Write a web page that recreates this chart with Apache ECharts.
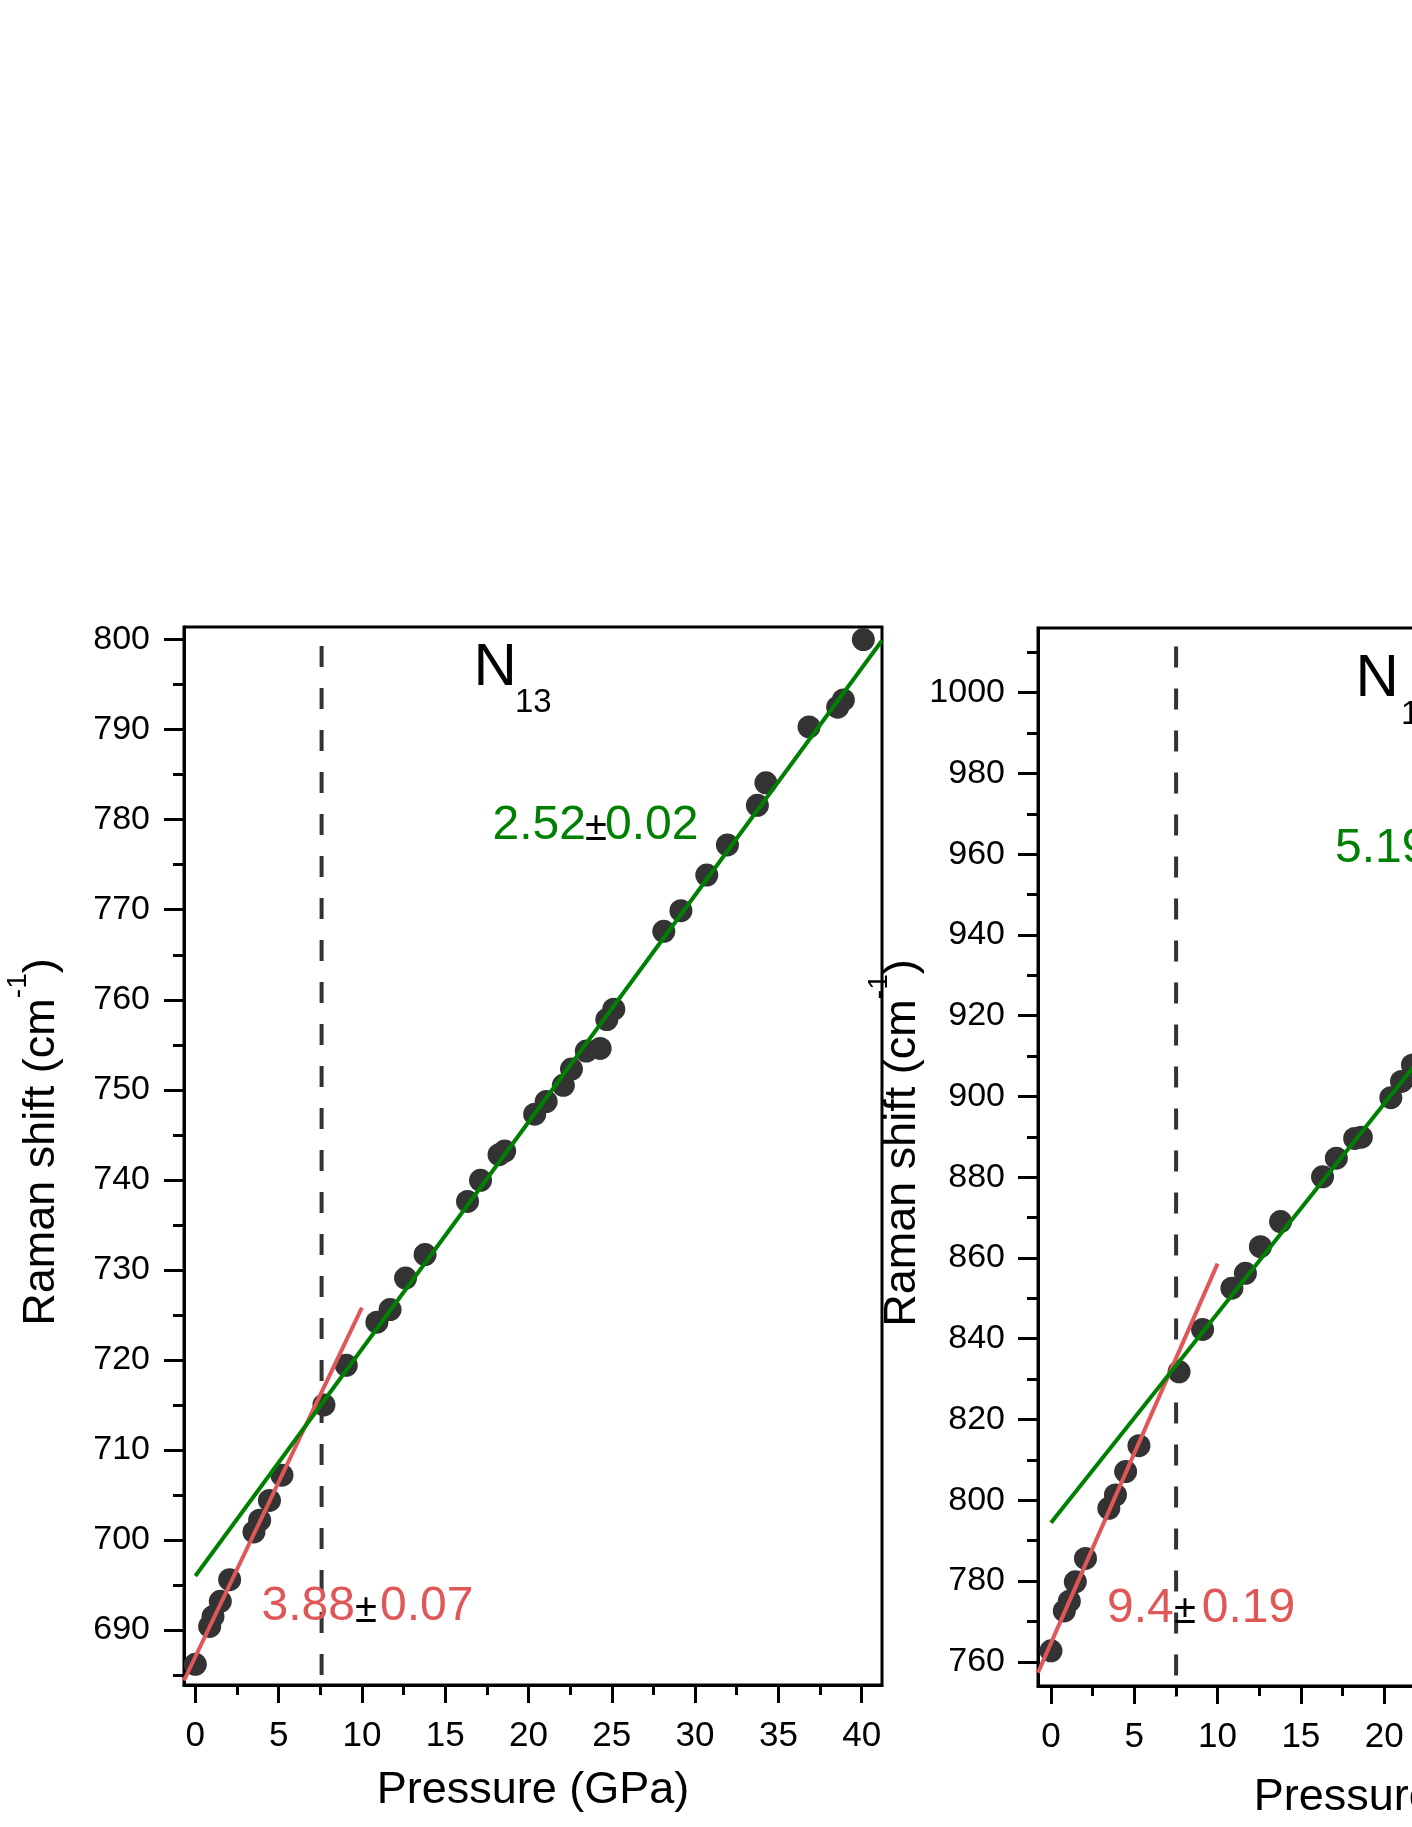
<!DOCTYPE html>
<html>
<head>
<meta charset="utf-8">
<script src="https://cdn.jsdelivr.net/npm/echarts@6/dist/echarts.min.js"></script>
<style>
html,body{margin:0;padding:0;background:#fff;}
#chart{width:1412px;height:1827px;}
</style>
</head>
<body>
<div id="chart"></div>
<script>
// ---------- data ----------
const p1Pressure = [0,0.86,1.06,1.5,2.06,3.52,3.86,4.45,5.2,7.72,9.06,10.9,11.69,12.62,13.79,16.34,17.12,18.23,18.57,20.37,21.06,22.09,22.58,23.47,24.3,24.7,25.12,28.12,29.15,30.7,31.94,33.74,34.25,36.84,38.56,38.9,40.1];
const p1Shift = [686.2,690.4,691.5,693.2,695.6,700.9,702.2,704.4,707.2,715.0,719.4,724.2,725.6,729.1,731.7,737.6,739.95,742.8,743.2,747.3,748.7,750.5,752.3,754.3,754.6,757.8,758.95,767.6,769.9,773.85,777.2,781.6,784.1,790.3,792.5,793.3,800.0];
const p2Pressure = [0,0.8,1.1,1.46,2.07,3.47,3.87,4.48,5.28,7.69,9.1,10.86,11.67,12.57,13.78,16.3,17.13,18.23,18.63,20.4,21.04,21.7];
const p2Shift = [762.7,772.6,775.0,779.8,785.6,798.0,801.3,807.1,813.5,831.8,842.3,852.5,856.2,862.8,869.0,880.1,884.7,889.6,889.9,899.7,903.7,907.8];

// linear fit endpoints [x, y]
const p1LowFitX = [-0.68, 10.0];
const p1LowFitY = [684.4, 725.8];
const p1HighFitX = [0, 41.22];
const p1HighFitY = [696.0, 799.9];
const p2LowFitX = [-0.78, 10.0];
const p2LowFitY = [757.3, 858.6];
const p2HighFitX = [0, 41.12];
const p2HighFitY = [794.4, 1007.8];

// transition pressure markers
const p1TransitionX = [7.58, 7.58];
const p1TransitionY = [799.3, 682.8];
const p2TransitionX = [7.51, 7.51];
const p2TransitionY = [1011.4, 751.3];

// ticks
const xTicks = [0,5,10,15,20,25,30,35,40];
const xMinorTicks = [2.5,7.5,12.5,17.5,22.5,27.5,32.5,37.5];
const y1Ticks = [690,700,710,720,730,740,750,760,770,780,790,800];
const y1MinorTicks = [685,695,705,715,725,735,745,755,765,775,785,795];
const y2Ticks = [760,780,800,820,840,860,880,900,920,940,960,980,1000];
const y2MinorTicks = [770,790,810,830,850,870,890,910,930,950,970,990,1010];

// labels
const xTitle = 'Pressure (GPa)';
const yTitle = '{a|Raman shift (cm}{b|-1}{a|)}';

// ---------- chart ----------
const FONT = '"Liberation Sans", Arial, sans-serif';
const zip = (a, b) => a.map((v, i) => [v, b[i]]);
const chart = echarts.init(document.getElementById('chart'), null, {renderer: 'canvas'});

function mainX(gridIndex, min, max, nameGap, namePad) {
  return {
    type: 'value', gridIndex, min, max, position: 'bottom',
    name: xTitle, nameLocation: 'middle', nameGap,
    nameTextStyle: {fontSize: 45, fontFamily: FONT, color: '#000', padding: namePad},
    axisLine: {show: true, onZero: false, lineStyle: {color: '#000', width: 3}},
    axisTick: {show: true, inside: false, length: 18, lineStyle: {color: '#000', width: 3}, customValues: xTicks},
    axisLabel: {show: true, margin: 34, fontSize: 35, fontFamily: FONT, color: '#000', customValues: xTicks, formatter: v => String(v)},
    splitLine: {show: false}
  };
}
function minorX(gridIndex, min, max) {
  return {
    type: 'value', gridIndex, min, max, position: 'bottom',
    axisLine: {show: false, onZero: false},
    axisTick: {show: true, inside: false, length: 10, lineStyle: {color: '#000', width: 3}, customValues: xMinorTicks},
    axisLabel: {show: false, customValues: xMinorTicks},
    splitLine: {show: false}
  };
}
function mainY(gridIndex, min, max, ticks, nameGap, margin) {
  return {
    type: 'value', gridIndex, min, max, position: 'left',
    name: yTitle, nameLocation: 'middle', nameGap,
    nameTextStyle: {
      fontSize: 45, fontFamily: FONT, color: '#000', padding: [0, 0, 0, 28],
      rich: {
        a: {fontSize: 45, fontFamily: FONT, color: '#000', lineHeight: 60, verticalAlign: 'bottom'},
        b: {fontSize: 28, fontFamily: FONT, color: '#000', lineHeight: 28, verticalAlign: 'top'}
      }
    },
    axisLine: {show: true, onZero: false, lineStyle: {color: '#000', width: 3}},
    axisTick: {show: true, inside: false, length: 20, lineStyle: {color: '#000', width: 3}, customValues: ticks},
    axisLabel: {show: true, margin, fontSize: 34, fontFamily: FONT, color: '#000', customValues: ticks, formatter: v => String(v)},
    splitLine: {show: false}
  };
}
function minorY(gridIndex, min, max, ticks) {
  return {
    type: 'value', gridIndex, min, max, position: 'left',
    axisLine: {show: false, onZero: false},
    axisTick: {show: true, inside: false, length: 11, lineStyle: {color: '#000', width: 3}, customValues: ticks},
    axisLabel: {show: false, customValues: ticks},
    splitLine: {show: false}
  };
}

function txt(x, y, text, size, color) {
  return {type: 'text', x, y, z: 100, style: {text, fontSize: size, fontFamily: FONT, fill: color, textAlign: 'left', textVerticalAlign: 'middle'}};
}

const GREEN = '#008000';
const RED = '#e05757';
const DOT = '#333333';

const option = {
  backgroundColor: '#ffffff',
  animation: false,
  grid: [
    {left: 184, top: 627, width: 698, height: 1058, show: true, borderColor: '#000', borderWidth: 3, backgroundColor: 'transparent', outerBoundsMode: 'none', containLabel: false},
    {left: 1038, top: 628, width: 698, height: 1058, show: true, borderColor: '#000', borderWidth: 3, backgroundColor: 'transparent', outerBoundsMode: 'none', containLabel: false}
  ],
  xAxis: [
    mainX(0, -0.68, 41.22, 83, [0, 0, 0, 0]),
    mainX(1, -0.78, 41.12, 89, [0, 0, 0, 46]),
    minorX(0, -0.68, 41.22),
    minorX(1, -0.78, 41.12)
  ],
  yAxis: [
    mainY(0, 683.9, 801.4, y1Ticks, 120, 34),
    mainY(1, 754.0, 1016.0, y2Ticks, 102, 33),
    minorY(0, 683.9, 801.4, y1MinorTicks),
    minorY(1, 754.0, 1016.0, y2MinorTicks)
  ],
  series: [
    {type: 'line', xAxisIndex: 0, yAxisIndex: 0, data: zip(p1TransitionX, p1TransitionY), symbol: 'none', clip: false, z: 2,
     lineStyle: {color: '#333', width: 4, type: [21, 21], cap: 'butt'}},
    {type: 'scatter', xAxisIndex: 0, yAxisIndex: 0, data: zip(p1Pressure, p1Shift), symbol: 'circle', symbolSize: 23, z: 3,
     itemStyle: {color: DOT, opacity: 1}},
    {type: 'line', xAxisIndex: 0, yAxisIndex: 0, data: zip(p1LowFitX, p1LowFitY), symbol: 'none', z: 4,
     lineStyle: {color: RED, width: 4}},
    {type: 'line', xAxisIndex: 0, yAxisIndex: 0, data: zip(p1HighFitX, p1HighFitY), symbol: 'none', z: 5,
     lineStyle: {color: GREEN, width: 4}},

    {type: 'line', xAxisIndex: 1, yAxisIndex: 1, data: zip(p2TransitionX, p2TransitionY), symbol: 'none', clip: false, z: 2,
     lineStyle: {color: '#333', width: 4, type: [21, 21], cap: 'butt'}},
    {type: 'scatter', xAxisIndex: 1, yAxisIndex: 1, data: zip(p2Pressure, p2Shift), symbol: 'circle', symbolSize: 23, z: 3,
     itemStyle: {color: DOT, opacity: 1}},
    {type: 'line', xAxisIndex: 1, yAxisIndex: 1, data: zip(p2LowFitX, p2LowFitY), symbol: 'none', z: 4,
     lineStyle: {color: RED, width: 4}},
    {type: 'line', xAxisIndex: 1, yAxisIndex: 1, data: zip(p2HighFitX, p2HighFitY), symbol: 'none', z: 5,
     lineStyle: {color: GREEN, width: 4}}
  ],
  graphic: [
    txt(473.5, 668, 'N', 60, '#000'),
    txt(515, 703, '13', 33, '#000'),
    txt(492.5, 826, '2.52', 48, GREEN),
    txt(585, 829, '\u00b1', 40, '#000'),
    txt(605, 826, '0.02', 48, GREEN),
    txt(261.5, 1607, '3.88', 48, RED),
    txt(355, 1611, '\u00b1', 40, '#000'),
    txt(380, 1607, '0.07', 48, RED),

    txt(1355.5, 679.5, 'N', 60, '#000'),
    txt(1401, 714.5, '14', 33, '#000'),
    txt(1335, 848.4, '5.19', 48, GREEN),
    txt(1107, 1609, '9.4', 48, RED),
    txt(1174, 1612, '\u00b1', 40, '#000'),
    txt(1201.7, 1609, '0.19', 48, RED)
  ]
};
chart.setOption(option);
</script>
</body>
</html>
